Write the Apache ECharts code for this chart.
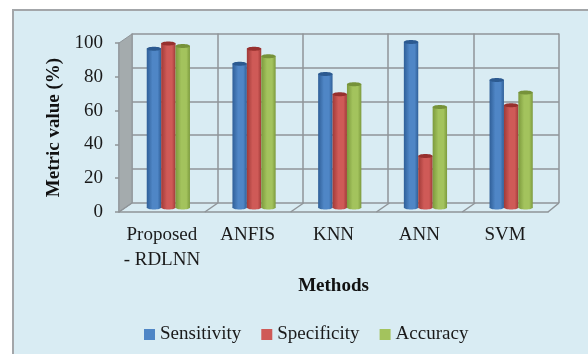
<!DOCTYPE html>
<html>
<head>
<meta charset="utf-8">
<style>
  html, body { margin: 0; padding: 0; background: #fff; }
  #chart { width: 588px; height: 354px; }
</style>
</head>
<body>
<div id="chart"></div>
<script src="https://cdn.jsdelivr.net/npm/echarts@6/dist/echarts.min.js"></script>
<script>
const methods = ['Proposed\n- RDLNN', 'ANFIS', 'KNN', 'ANN', 'SVM']
const sensitivity = [94, 85, 79, 98, 75.5]
const specificity = [97, 94, 67, 30.5, 60.5]
const accuracy = [95.5, 89.5, 73, 59.5, 68]
const yTicks = { min: 0, max: 100, interval: 20 }

const FONT = '"Liberation Serif", "Times New Roman", serif'
const LINE = '#8f9498'
const DEPTH_X = 13
const DEPTH_Y = 9

// shades: [edge, middle, top cap]
const shades = {
  Sensitivity: ['#2f5f98', '#4f86c6', '#2c5a90'],
  Specificity: ['#a03a38', '#cf5a57', '#97302e'],
  Accuracy: ['#7c9a3d', '#a3c35d', '#76923a']
}

// cylinder bars, slot = position inside the group
function cylinder (slot, name) {
  return function (params, api) {
    const top = api.coord([api.value(0), api.value(1)])
    const base = api.coord([api.value(0), 0])
    const w = api.size([1, 0])[0] / 5.95
    const x = top[0] + (slot - 1.5) * w
    const s = shades[name]
    const fill = new echarts.graphic.LinearGradient(0, 0, 1, 0, [
      { offset: 0, color: s[0] },
      { offset: 0.4, color: s[1] },
      { offset: 0.75, color: s[1] },
      { offset: 1, color: s[0] }
    ])
    return {
      type: 'group',
      children: [
        { type: 'ellipse', shape: { cx: x + w / 2, cy: base[1], rx: w / 2, ry: 2 }, style: { fill: fill } },
        { type: 'rect', shape: { x: x, y: top[1], width: w, height: base[1] - top[1] }, style: { fill: fill } },
        { type: 'ellipse', shape: { cx: x + w / 2, cy: top[1], rx: w / 2, ry: 2 }, style: { fill: s[2] } }
      ]
    }
  }
}

// left wall and floor, drawn once from the front plane
function box (params, api) {
  const i = api.value(0)
  const bw = api.size([1, 0])[0]
  const p = api.coord([i, 0])
  const left = p[0] - bw / 2
  const right = p[0] + bw / 2
  const y = p[1]
  const children = [
    { type: 'line', shape: { x1: left, y1: y, x2: left + DEPTH_X, y2: y - DEPTH_Y }, style: { stroke: LINE, lineWidth: 1.5 } }
  ]
  if (i === methods.length - 1) {
    children.push({ type: 'line', shape: { x1: right, y1: y, x2: right + DEPTH_X - 2, y2: y - DEPTH_Y }, style: { stroke: LINE, lineWidth: 1.5 } })
  }
  if (i === 0) {
    const t = api.coord([i, yTicks.max])[1]
    children.unshift({
      type: 'polygon',
      shape: { points: [[left, y], [left + DEPTH_X, y - DEPTH_Y], [left + DEPTH_X, t - DEPTH_Y], [left, t]] },
      style: { fill: '#a4abad', stroke: LINE }
    })
  }
  return { type: 'group', children: children }
}

function barSeries (name, values, slot) {
  return {
    name: name,
    type: 'custom',
    xAxisIndex: 2,
    yAxisIndex: 2,
    z: 5,
    itemStyle: { color: shades[name][1] },
    encode: { x: 0, y: 1 },
    data: values.map((v, i) => [i, v]),
    renderItem: cylinder(slot, name)
  }
}

const chart = echarts.init(document.getElementById('chart'), null, { renderer: 'canvas' })
chart.setOption({
  animation: false,
  textStyle: { fontFamily: FONT },
  graphic: [{
    type: 'rect',
    z: -10,
    shape: { x: 13, y: 10, width: 640, height: 400 },
    style: { fill: '#d9ecf3', stroke: '#a3a6a9', lineWidth: 2 }
  }],
  legend: {
    data: ['Sensitivity', 'Specificity', 'Accuracy'],
    left: 139,
    top: 320,
    icon: 'rect',
    itemWidth: 11,
    itemHeight: 11,
    itemGap: 20,
    textStyle: { fontFamily: FONT, fontSize: 19, color: '#1a1a1a' }
  },
  grid: [
    { left: 119, right: 40, top: 43, bottom: 142 },
    { left: 132, right: 29, top: 33.5, bottom: 151 },
    { left: 125.5, right: 34, top: 38.5, bottom: 146.5 }
  ],
  xAxis: [
    {
      gridIndex: 0,
      type: 'category',
      data: methods,
      name: 'Methods',
      nameLocation: 'middle',
      nameGap: 65,
      nameTextStyle: { fontFamily: FONT, fontSize: 19, fontWeight: 'bold', color: '#111' },
      axisLine: { lineStyle: { color: LINE, width: 1.5 } },
      axisTick: { show: false },
      axisLabel: { interval: 0, fontFamily: FONT, fontSize: 19, color: '#1a1a1a', margin: 11, lineHeight: 25 }
    },
    {
      gridIndex: 1,
      type: 'category',
      data: methods,
      axisLine: { show: false },
      axisTick: { show: false },
      axisLabel: { show: false },
      splitLine: { show: true, interval: 0, lineStyle: { color: LINE, width: 1.5 } }
    },
    {
      gridIndex: 2,
      type: 'category',
      data: methods,
      axisLine: { show: false },
      axisTick: { show: false },
      axisLabel: { show: false }
    }
  ],
  yAxis: [
    {
      gridIndex: 0,
      type: 'value',
      min: yTicks.min,
      max: yTicks.max,
      interval: yTicks.interval,
      name: 'Metric value (%)',
      nameLocation: 'middle',
      nameGap: 52,
      nameTextStyle: { fontFamily: FONT, fontSize: 19, fontWeight: 'bold', color: '#111' },
      axisLine: { show: true, lineStyle: { color: LINE, width: 1.5 } },
      axisTick: { show: true, length: 4, lineStyle: { color: LINE, width: 1.5 } },
      axisLabel: { fontFamily: FONT, fontSize: 19, color: '#1a1a1a', margin: 16, padding: [6, 0, 0, 0] },
      splitLine: { show: false }
    },
    {
      gridIndex: 1,
      type: 'value',
      min: yTicks.min,
      max: yTicks.max,
      interval: yTicks.interval,
      axisLine: { show: false },
      axisTick: { show: false },
      axisLabel: { show: false },
      splitLine: { show: true, lineStyle: { color: LINE, width: 1.5 } }
    },
    {
      gridIndex: 2,
      type: 'value',
      min: yTicks.min,
      max: yTicks.max,
      interval: yTicks.interval,
      axisLine: { show: false },
      axisTick: { show: false },
      axisLabel: { show: false },
      splitLine: { show: false }
    }
  ],
  series: [
    {
      type: 'custom',
      xAxisIndex: 0,
      yAxisIndex: 0,
      z: 3,
      silent: true,
      data: methods.map((m, i) => [i]),
      encode: { x: 0 },
      renderItem: box
    },
    barSeries('Sensitivity', sensitivity, 0),
    barSeries('Specificity', specificity, 1),
    barSeries('Accuracy', accuracy, 2)
  ]
})
</script>
</body>
</html>
